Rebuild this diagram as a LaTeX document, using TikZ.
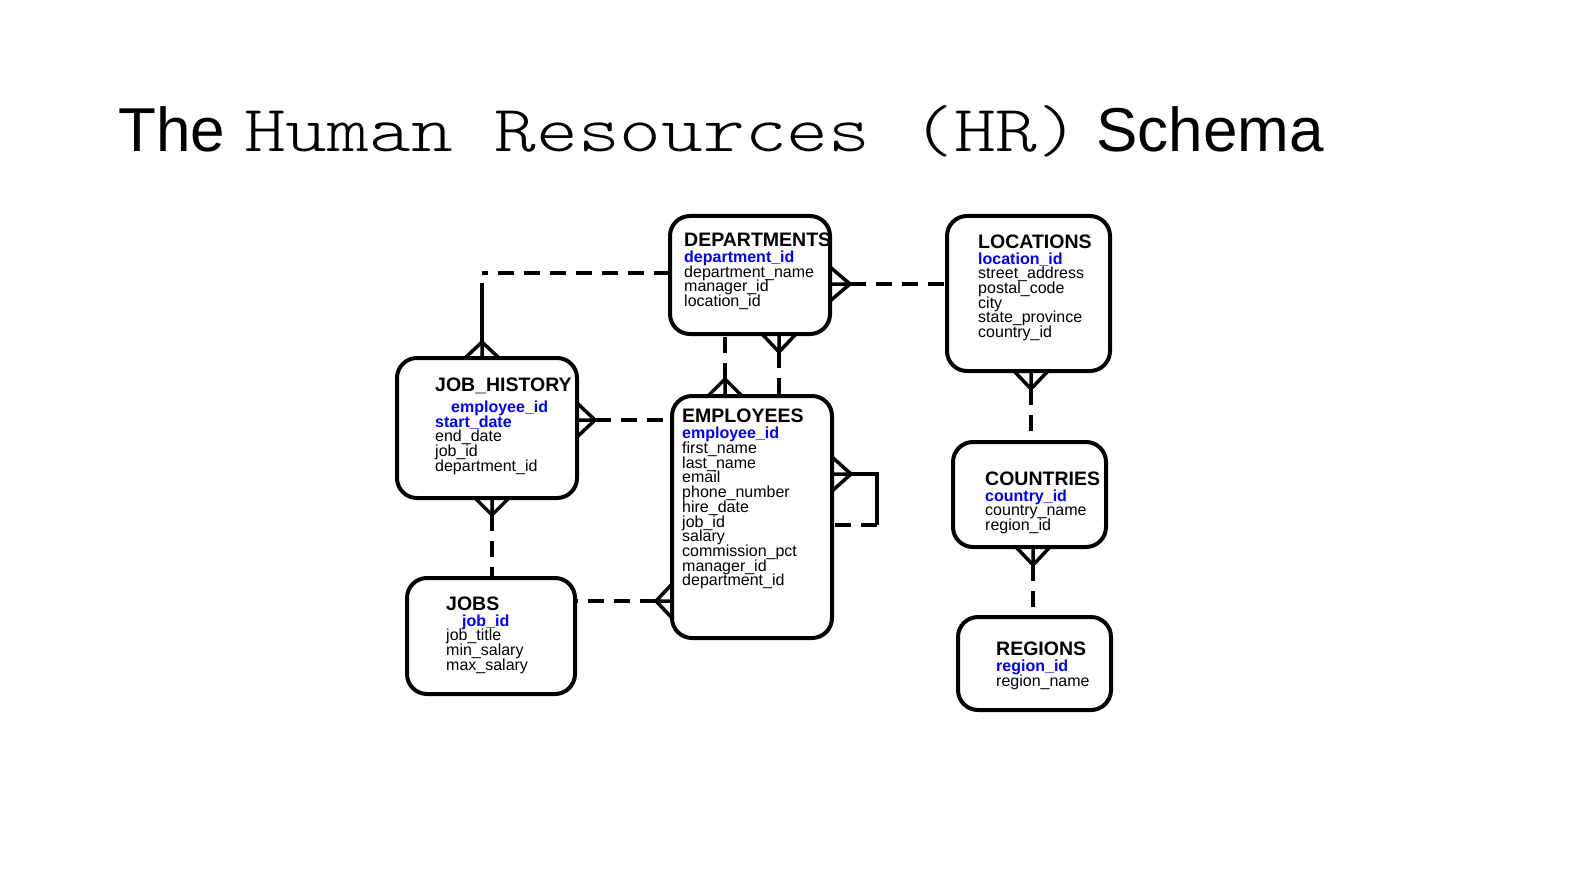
\documentclass[tikz,border=0pt]{standalone}
\usepackage{fontspec}
\setmainfont{Liberation Sans}
\usepackage{graphicx}
\usetikzlibrary{calc}

\definecolor{keyblue}{RGB}{0,0,255}
\setlength{\lineskiplimit}{-100pt}
\newcommand{\entity}[1]{{\fontsize{19.5}{14.7}\selectfont\bfseries #1}}
\newcommand{\pk}[1]{{\color{keyblue}\bfseries #1}}
% crow's foot: edge point, offset to the apex, apex name
\newcommand{\crowfoot}[3]{%
  \coordinate (#3) at ($(#1)+(#2)$);
  \draw[rel] ($(#1)!17pt!90:(#3)$) -- (#3) -- ($(#1)!17pt!-90:(#3)$) (#1) -- (#3);}

\tikzset{
  entitybox/.style={draw, line width=4pt, rounded corners=20pt, inner sep=0pt, outer sep=0pt, anchor=north west},
  fields/.style={anchor=north west, align=left, inner sep=0pt, font=\fontsize{16}{14.7}\selectfont},
  rel/.style={line width=3.5pt},
  reldash/.style={rel, dash pattern=on 16pt off 10pt}
}

\begin{document}
\begin{tikzpicture}[x=1pt,y=-1pt]
\fill[white] (0,0) rectangle (1573,885);
\useasboundingbox (0,0) rectangle (1573,885);

% Title
\node[anchor=base west, inner sep=0pt, font=\fontsize{62}{62}\selectfont] (title-the) at (118,152) {The};
\node[anchor=base west, inner sep=0pt] (title-hr) at (244,152) {\scalebox{1.205}[1]{\fontsize{66}{66}\selectfont\ttfamily\fontseries{l}\selectfont Human Resources (HR)}};
\node[anchor=base west, inner sep=0pt, font=\fontsize{62}{62}\selectfont] (title-schema) at (1096,152) {Schema};

% Tables
\node[entitybox, minimum width=160pt, minimum height=118pt] (dept) at (670,216) {};
\node[fields] (dept-cols) at (684,233) {\entity{DEPARTMENTS}\\[1pt]
  \pk{department\_id}\\ department\_name\\ manager\_id\\ location\_id};

\node[entitybox, minimum width=163pt, minimum height=155pt] (loc) at (947,216) {};
\node[fields] (loc-cols) at (978,235) {\entity{LOCATIONS}\\[0.5pt]
  \pk{location\_id}\\ street\_address\\ postal\_code\\ city\\ state\_province\\ country\_id};

\node[entitybox, minimum width=180pt, minimum height=140pt] (jh) at (397,358) {};
\node[fields] (jh-cols) at (435,378) {\entity{JOB\_HISTORY}\\[6pt]
  \hspace*{16pt}\pk{employee\_id}\\ \pk{start\_date}\\ end\_date\\ job\_id\\ department\_id};

\node[entitybox, minimum width=160pt, minimum height=242pt] (emp) at (672,396) {};
\node[fields] (emp-cols) at (682,409) {\entity{EMPLOYEES}\\[1.3pt]
  \pk{employee\_id}\\ first\_name\\ last\_name\\ email\\ phone\_number\\ hire\_date\\
  job\_id\\ salary\\ commission\_pct\\ manager\_id\\ department\_id};

\node[entitybox, minimum width=153pt, minimum height=105pt] (ctry) at (953,442) {};
\node[fields] (ctry-cols) at (985,472) {\entity{COUNTRIES}\\[0.5pt]
  \pk{country\_id}\\ country\_name\\ region\_id};

\node[entitybox, minimum width=168pt, minimum height=116pt] (jobs) at (407,578) {};
\node[fields] (jobs-cols) at (446,597) {\entity{JOBS}\\[0.5pt]
  \hspace*{16pt}\pk{job\_id}\\ job\_title\\ min\_salary\\ max\_salary};

\node[entitybox, minimum width=153pt, minimum height=93pt] (reg) at (958,617) {};
\node[fields] (reg-cols) at (996,642) {\entity{REGIONS}\\[1.3pt]
  \pk{region\_id}\\ region\_name};

% DEPARTMENTS - JOB_HISTORY
\coordinate (dj) at (dept.west |- 0,273);
\coordinate (jh-top) at (jh.north -| 482,0);
\coordinate (dj-corner) at (jh-top |- dj);
\crowfoot{jh-top}{0,-16}{jh-apex}
\draw[reldash] (dj) -- (dj-corner);
\draw[rel] (jh-apex) -- ($(dj-corner)+(0,10)$);

% DEPARTMENTS - LOCATIONS
\coordinate (dl) at (dept.east |- 0,284);
\crowfoot{dl}{20,0}{dl-apex}
\draw[reldash] (dl-apex) -- (loc.west |- dl);

% DEPARTMENTS - EMPLOYEES
\coordinate (de1) at (emp.north -| 725,0);
\crowfoot{de1}{0,-17}{de1-apex}
\draw[reldash] (de1-apex) -- (dept.south -| de1);
\coordinate (de2) at (dept.south -| 779,0);
\crowfoot{de2}{0,18}{de2-apex}
\draw[reldash] (de2-apex) -- (emp.north -| de2);

% JOB_HISTORY - EMPLOYEES
\coordinate (je) at (jh.east |- 0,420);
\crowfoot{je}{18,0}{je-apex}
\draw[reldash] (je-apex) -- (emp.west |- je);

% JOB_HISTORY - JOBS
\coordinate (jj) at (jh.south -| 492,0);
\crowfoot{jj}{0,17}{jj-apex}
\draw[reldash] (jj-apex) -- (jobs.north -| jj);

% JOBS - EMPLOYEES
\coordinate (oe) at (emp.west |- 0,601);
\crowfoot{oe}{-16,0}{oe-apex}
\draw[reldash] (oe-apex) -- (jobs.east |- oe);

% EMPLOYEES - EMPLOYEES
\coordinate (ee) at (emp.east |- 0,474);
\crowfoot{ee}{19,0}{ee-apex}
\draw[rel] (ee-apex) -- ++(26,0) -- ++(0,51) coordinate (ee-low);
\draw[reldash] (ee-low) -- (emp.east |- ee-low);

% LOCATIONS - COUNTRIES
\coordinate (lc) at (loc.south -| 1031,0);
\crowfoot{lc}{0,18}{lc-apex}
\draw[reldash] (lc-apex) -- (ctry.north -| lc);

% COUNTRIES - REGIONS
\coordinate (cr) at (ctry.south -| 1033,0);
\crowfoot{cr}{0,18}{cr-apex}
\draw[reldash] (cr-apex) -- (reg.north -| cr);
\end{tikzpicture}
\end{document}
